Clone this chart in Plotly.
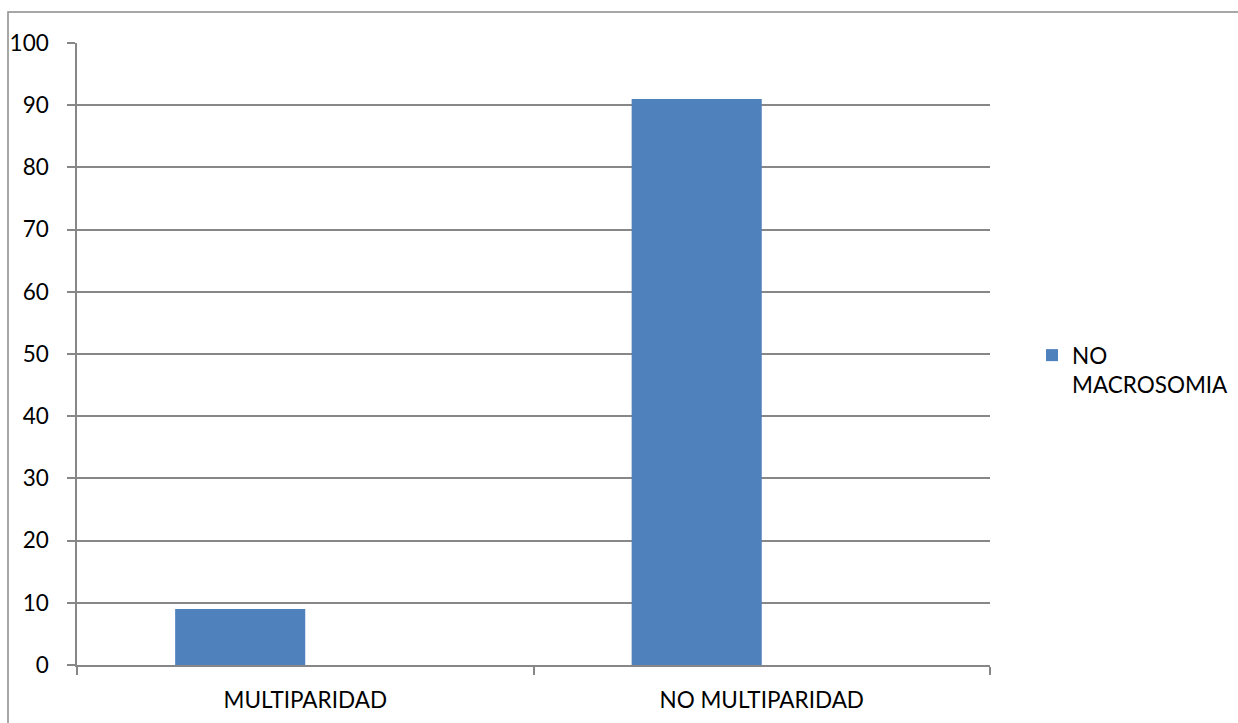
import plotly.graph_objects as go

categories = ["MULTIPARIDAD", "NO MULTIPARIDAD"]
series_name = "NO<br>MACROSOMIA"
values = [9, 91]
y_ticks = [0, 10, 20, 30, 40, 50, 60, 70, 80, 90, 100]

W, H = 1238, 723
L, R, T, B = 77, 248, 43, 58
pw, ph = W - L - R, H - T - B

def px_x(x):
    return (x - L) / pw

def px_y(y):
    return (H - B - y) / ph

fig = go.Figure()
fig.add_trace(go.Bar(
    x=categories, y=values, name=series_name,
    marker=dict(color="#4F81BD", line=dict(width=0)),
    width=0.285, offset=-0.285,
    showlegend=True,
))

grid = "#878787"
fig.update_layout(
    width=W, height=H,
    margin=dict(l=L, r=R, t=T, b=B, autoexpand=False),
    paper_bgcolor="white", plot_bgcolor="white",
    font=dict(family="Lato, Open Sans, sans-serif", size=22.5, color="black"),
    showlegend=True,
    legend=dict(xref="container", yref="container",
                x=1032 / W, y=1 - 370 / H, xanchor="left", yanchor="middle",
                font=dict(size=22.5), itemwidth=30, bgcolor="rgba(0,0,0,0)",
                valign="top", tracegroupgap=0),
    xaxis=dict(type="category", tickson="boundaries", ticks="outside", ticklen=8,
               tickcolor=grid, tickwidth=1.5, showline=True, linecolor=grid, linewidth=1.5,
               showgrid=False, range=[-0.5, 1.5], zeroline=False,
               ticklabelstandoff=14, automargin=False),
    yaxis=dict(range=[0, 100], tickvals=y_ticks, ticks="outside", ticklen=8,
               tickcolor=grid, tickwidth=1.5, showline=True, linecolor=grid, linewidth=1.5,
               showgrid=True, gridcolor=grid, gridwidth=1.5, zeroline=False,
               ticklabelstandoff=14, automargin=False),
    shapes=[dict(type="rect", xref="paper", yref="paper",
                 x0=px_x(8), x1=px_x(1260), y0=px_y(760), y1=px_y(12),
                 line=dict(color="#8a8a8a", width=1.5), fillcolor="rgba(0,0,0,0)",
                 layer="below")],
)

fig.write_html("out.html")
